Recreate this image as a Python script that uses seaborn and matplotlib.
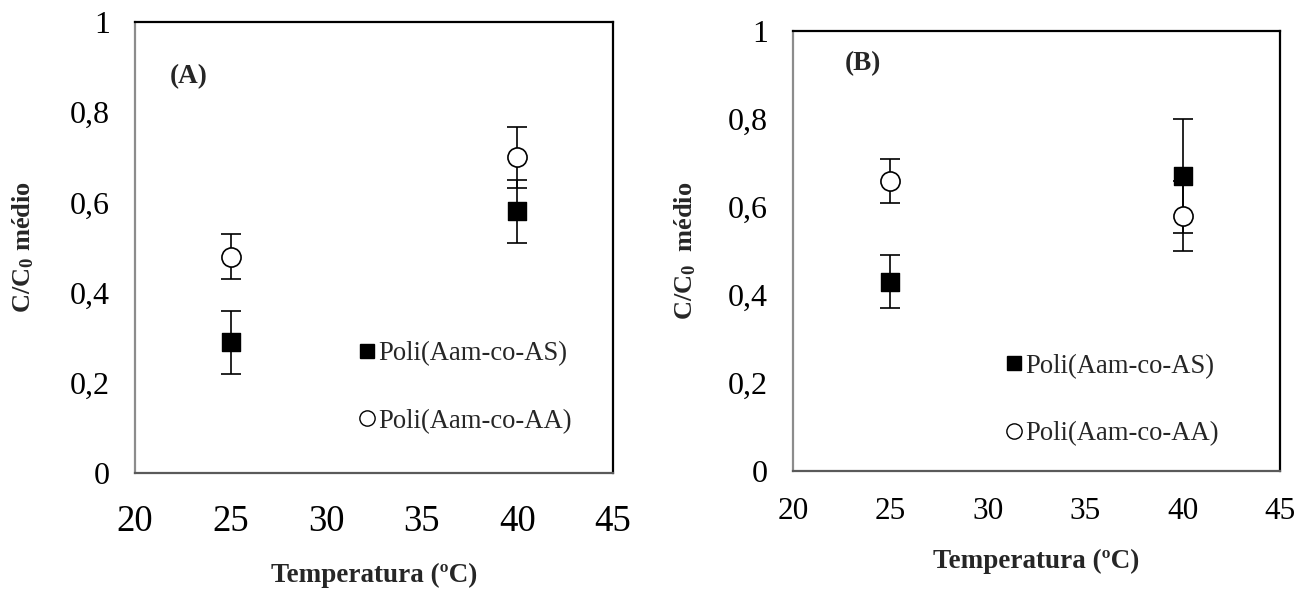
import matplotlib
matplotlib.use("Agg")
import matplotlib.pyplot as plt
import seaborn as sns
import pandas as pd
from matplotlib.lines import Line2D

sns.set_theme(style="white")
plt.rcParams['font.family'] = ['Liberation Serif', 'DejaVu Serif']
plt.rcParams['mathtext.fontset'] = 'custom'
plt.rcParams['mathtext.rm'] = 'Liberation Serif'
plt.rcParams['mathtext.bf'] = 'Liberation Serif:bold'

# ---- data ----
temps = [25, 40]
series_names = ["Poli(Aam-co-AS)", "Poli(Aam-co-AA)"]
# panel A
a_as = [0.29, 0.58]
a_as_err = [0.07, 0.07]
a_aa = [0.48, 0.70]
a_aa_err = [0.05, 0.067]
# panel B
b_as = [0.43, 0.67]
b_as_err = [0.06, 0.13]
b_aa = [0.66, 0.58]
b_aa_err = [0.05, 0.08]

panel_labels = ["(A)", "(B)"]
xticks = [20, 25, 30, 35, 40, 45]
yticks = [0, 0.2, 0.4, 0.6, 0.8, 1.0]
ytick_labels = ["0", "0,2", "0,4", "0,6", "0,8", "1"]

fig = plt.figure(figsize=(13.12, 5.90), dpi=100)
axA = fig.add_axes([135/1312, 1-473/590, (613-135)/1312, (473-22)/590])
axB = fig.add_axes([793/1312, 1-471/590, (1280-793)/1312, (471-31)/590])

def draw(ax, as_v, as_e, aa_v, aa_e, label, lab_xy, xt_size, xpad, leg_anchor, xl_y, yl_x, ylab):
    df_as = pd.DataFrame({"T": temps, "v": as_v, "e": as_e})
    df_aa = pd.DataFrame({"T": temps, "v": aa_v, "e": aa_e})
    ax.errorbar(df_as["T"], df_as["v"], yerr=df_as["e"], fmt="none", ecolor="black",
                elinewidth=1.2, capsize=7.5, capthick=1.2, zorder=2)
    ax.errorbar(df_aa["T"], df_aa["v"], yerr=df_aa["e"], fmt="none", ecolor="black",
                elinewidth=1.2, capsize=7.5, capthick=1.2, zorder=2)
    sns.scatterplot(data=df_as, x="T", y="v", marker="s", s=175, color="black",
                    edgecolor="black", linewidth=1, ax=ax, zorder=3)
    sns.scatterplot(data=df_aa, x="T", y="v", marker="o", s=190, color="white",
                    edgecolor="black", linewidth=1.2, ax=ax, zorder=4)
    ax.set_xlim(20, 45)
    ax.set_ylim(0, 1)
    ax.set_xticks(xticks)
    ax.set_xticklabels([str(t) for t in xticks], fontsize=xt_size)
    ax.set_yticks(yticks)
    ax.set_yticklabels(ytick_labels, fontsize=23)
    ax.tick_params(axis="both", direction="out", length=6, width=1.2, color="#a8a8a8",
                   labelcolor="black")
    ax.tick_params(axis="x", pad=xpad)
    ax.tick_params(axis="y", pad=12)
    ax.spines["left"].set_color("#8c8c8c")
    ax.spines["bottom"].set_color("#5a5a5a")
    ax.spines["top"].set_color("black")
    ax.spines["right"].set_color("black")
    for s in ax.spines.values():
        s.set_linewidth(1.6)
        s.set_visible(True)
    ax.set_xlabel("Temperatura (ºC)", fontsize=19.5, fontweight="bold", va="center")
    ax.xaxis.set_label_coords(0.5, xl_y)
    ax.set_ylabel(ylab, fontsize=19, fontweight="bold", va="center")
    ax.yaxis.set_label_coords(yl_x, 0.5)
    ax.text(lab_xy[0], lab_xy[1], label, fontsize=19.5, fontweight="bold",
            ha="center", va="center")
    handles = [Line2D([], [], marker="s", linestyle="none", markersize=10.5,
                      markerfacecolor="black", markeredgecolor="black"),
               Line2D([], [], marker="o", linestyle="none", markersize=11,
                      markerfacecolor="white", markeredgecolor="black", markeredgewidth=1)]
    ax.legend(handles, series_names, loc="center left", bbox_to_anchor=leg_anchor,
              frameon=False, fontsize=19.2, handlelength=0.6, handletextpad=0.1,
              borderpad=0, borderaxespad=0, labelspacing=1.6)

draw(axA, a_as, a_as_err, a_aa, a_aa_err, panel_labels[0], (22.8, 0.878), 26.5, 17,
     (0.469, 0.19), -0.228, -0.234, r"$\mathbf{C/C_0}$ médio")
draw(axB, b_as, b_as_err, b_aa, b_aa_err, panel_labels[1], (23.6, 0.927), 22.5, 13,
     (0.438, 0.161), -0.206, -0.222, r"$\mathbf{C/C_0}$  médio")

fig.savefig("out.png", dpi=100)
